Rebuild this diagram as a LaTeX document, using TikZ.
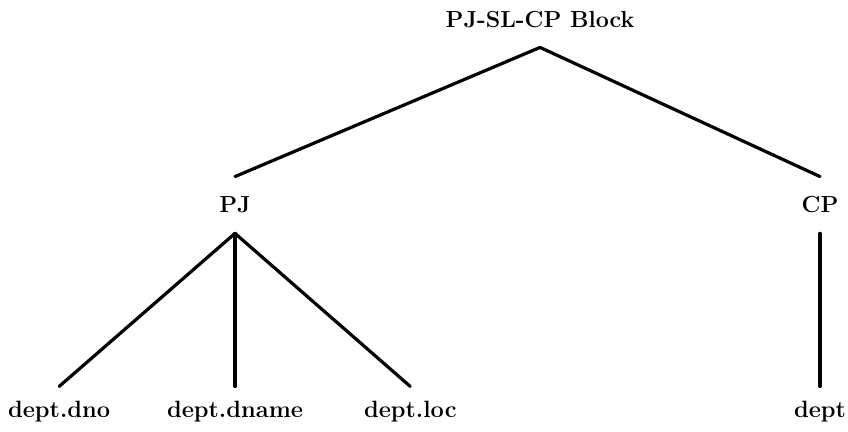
\documentclass[tikz,border=0pt]{standalone}
\usetikzlibrary{positioning}
\tikzstyle{head} = [rectangle, inner xsep=0pt, inner ysep=10pt, text height=8pt, text depth=0pt, text centered, font=\fontsize{11.6}{13}\selectfont\bfseries]
\tikzstyle{leaf} = [rectangle, inner xsep=0pt, inner ysep=7.5pt, text height=8pt, text depth=0pt, text centered, font=\fontsize{11.8}{13}\selectfont\bfseries]
\tikzstyle{branch} = [line width=1.6pt, line cap=round]
\begin{document}
\begin{tikzpicture}[node distance=3.6cm]
\useasboundingbox (0,0) rectangle (14.902,-7.574);

%Block
\node (block) [head] at (9.49,-0.334) {PJ-SL-CP Block};
%PJ
\node (PJ) [head, below of=block, xshift=-5.36cm, yshift=0.332cm] {PJ};
\node (PJdname) [leaf, below of=PJ] {dept.dname};
\node (PJdno) [leaf, left of=PJdname, xshift=0.51cm] {dept.dno};
\node (PJloc) [leaf, right of=PJdname, xshift=-0.52cm] {dept.loc};
%CP
\node (CP) [head, right of=PJ, xshift=6.68cm] {CP};
\node (CPdept) [leaf, below of=CP] {dept};

%lines
\draw [branch] (block.south) -- (PJ.north);
\draw [branch] (block.south) -- (CP.north);
\draw [branch] (PJ.south) -- (PJdno.north);
\draw [branch] (PJ.south) -- (PJdname.north);
\draw [branch] (PJ.south) -- (PJloc.north);
\draw [branch] (CP.south) -- (CPdept.north);

\end{tikzpicture}
\end{document}
